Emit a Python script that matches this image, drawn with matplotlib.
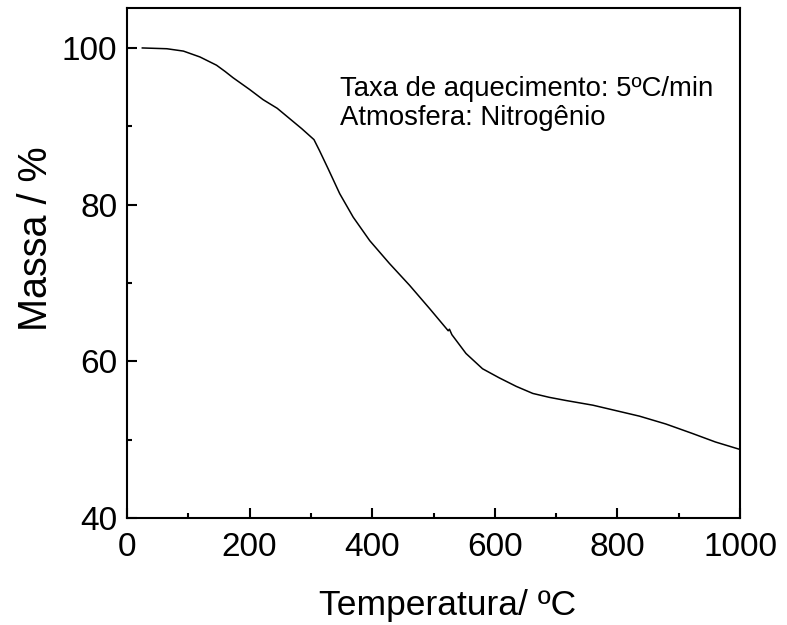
import matplotlib
matplotlib.use("Agg")
import matplotlib.pyplot as plt
from matplotlib.ticker import MultipleLocator

plt.rcParams['font.family'] = ['Liberation Sans', 'DejaVu Sans']

temperature = [25, 65, 92, 119, 146, 160, 173, 200, 222, 245, 265, 285, 305, 314, 328,
               347, 369, 396, 428, 461, 494, 524, 526, 530, 553, 580, 607, 635,
               662, 689, 716, 760, 798, 836, 879, 922, 960, 1000]
mass = [100.0, 99.9, 99.6, 98.85, 97.8, 97.0, 96.2, 94.7, 93.4, 92.3, 91.0, 89.7, 88.3,
        86.9, 84.6, 81.4, 78.4, 75.4, 72.5, 69.7, 66.7, 63.9, 64.1, 63.4, 61.0,
        59.05, 57.9, 56.8, 55.9, 55.4, 55.0, 54.4, 53.7, 53.0, 52.0, 50.8, 49.7, 48.75]

x_ticks = [0, 200, 400, 600, 800, 1000]
y_ticks = [40, 60, 80, 100]
annotation_lines = ["Taxa de aquecimento: 5ºC/min", "Atmosfera: Nitrogênio"]
x_label = "Temperatura/ ºC"
y_label = "Massa / %"

W, H = 787, 625
fig = plt.figure(figsize=(W / 100, H / 100), dpi=100)
ax = fig.add_axes([127 / W, 1 - 518 / H, (740 - 127) / W, (518 - 8) / H])

ax.plot(temperature, mass, color='black', lw=1.1)
ax.set_xlim(0, 1000)
ax.set_ylim(40, 105.1)
ax.set_xticks(x_ticks)
ax.set_yticks(y_ticks)
ax.xaxis.set_minor_locator(MultipleLocator(100))
ax.yaxis.set_minor_locator(MultipleLocator(10))
ax.tick_params(which='both', direction='in', top=False, right=False,
               width=1.5, labelsize=24)
ax.tick_params(which='major', length=7.2)
ax.tick_params(which='minor', length=3.6)
ax.tick_params(axis='x', pad=10)
ax.tick_params(axis='y', pad=7)
for s in ax.spines.values():
    s.set_linewidth(1.5)

for i, line in enumerate(annotation_lines):
    fig.text(340 / W, 1 - (96 + 29 * i) / H, line, fontsize=19.8,
             ha='left', va='baseline')

fig.text(448 / W, 1 - 615 / H, x_label, fontsize=25.5, ha='center', va='baseline')
fig.text(47 / W, 1 - 239 / H, y_label, fontsize=28.5, ha='center', va='baseline',
         rotation=90, rotation_mode='anchor')

fig.savefig("out.png", dpi=100)
